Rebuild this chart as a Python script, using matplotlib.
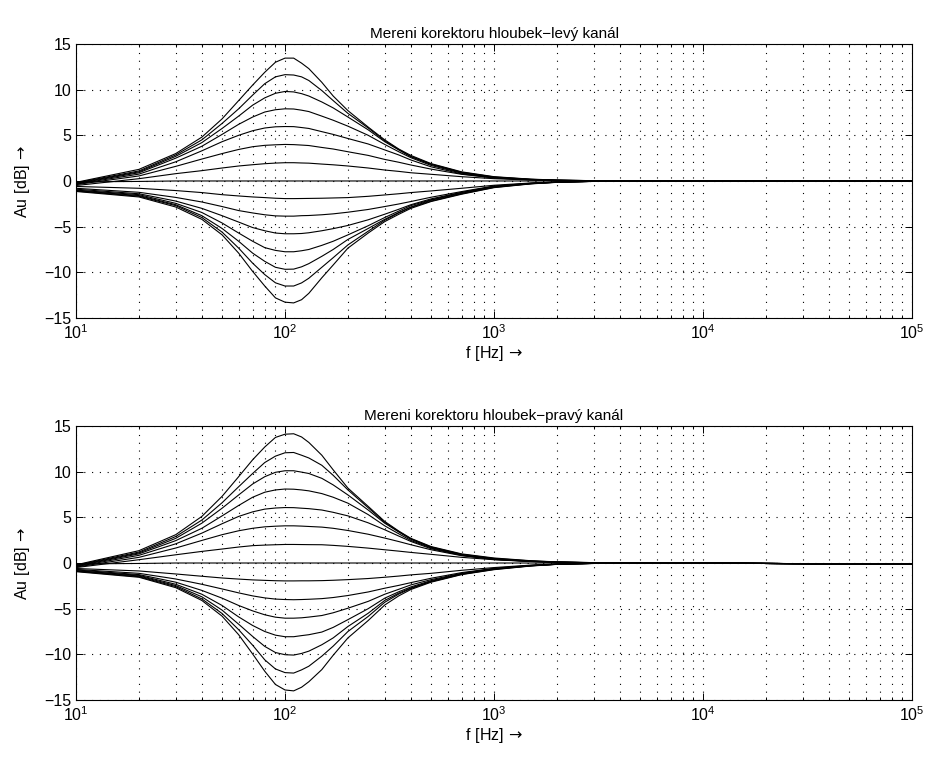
import math
import matplotlib
matplotlib.use('Agg')
import matplotlib.pyplot as plt
from matplotlib.ticker import LogLocator, FuncFormatter, NullFormatter

plt.rcParams['font.family'] = ['Liberation Sans', 'DejaVu Sans']
plt.rcParams['mathtext.fontset'] = 'dejavusans'

# measurement frequencies [Hz]
freq = [10, 20, 30, 40, 50, 60, 70, 80, 90, 100,
        110, 120, 130, 150, 170, 200, 250, 300, 350, 400,
        500, 700, 1000, 1500, 2000, 3000, 5000, 10000, 20000, 50000, 100000]

# ---- left channel (top) ----
left_p7 = [-0.15, 1.27, 3.0, 4.8, 6.8, 8.8, 10.5, 11.9, 13.0, 13.45,
           13.45, 12.9, 12.3, 10.8, 9.3, 7.7, 5.9, 4.5, 3.5, 2.8,
           1.9, 1.0, 0.47, 0.2, 0.1, 0.03, 0, 0, 0, 0, 0]
left_p6 = [-0.2, 1.1, 2.85, 4.5, 6.3, 7.9, 9.4, 10.65, 11.4, 11.64,
           11.6, 11.4, 11.0, 9.9, 8.8, 7.4, 5.8, 4.4, 3.45, 2.7,
           1.85, 0.95, 0.44, 0.18, 0.09, 0.03, 0, 0, 0, 0, 0]
left_p5 = [-0.25, 1.0, 2.7, 4.2, 5.75, 7.1, 8.3, 9.1, 9.6, 9.8,
           9.75, 9.56, 9.3, 8.65, 8.0, 7.0, 5.6, 4.3, 3.4, 2.65,
           1.8, 0.9, 0.4, 0.17, 0.08, 0.03, 0, 0, 0, 0, 0]
left_p4 = [-0.3, 0.9, 2.5, 3.8, 5.1, 6.2, 7.0, 7.55, 7.8, 7.9,
           7.88, 7.75, 7.6, 7.1, 6.65, 6.0, 5.0, 4.0, 3.2, 2.55,
           1.7, 0.85, 0.36, 0.15, 0.07, 0.02, 0, 0, 0, 0, 0]
left_p3 = [-0.35, 0.75, 2.1, 3.3, 4.3, 5.0, 5.5, 5.8, 5.93, 5.96,
           5.95, 5.85, 5.75, 5.4, 5.1, 4.65, 4.05, 3.4, 2.85, 2.3,
           1.55, 0.77, 0.33, 0.14, 0.06, 0.02, 0, 0, 0, 0, 0]
left_p2 = [-0.4, 0.55, 1.6, 2.4, 3.0, 3.45, 3.75, 3.9, 3.96, 4.0,
           3.98, 3.93, 3.88, 3.67, 3.5, 3.2, 2.8, 2.36, 2.05, 1.75,
           1.3, 0.73, 0.33, 0.13, 0.06, 0.02, 0, 0, 0, 0, 0]
left_p1 = [-0.5, 0.25, 0.8, 1.13, 1.42, 1.64, 1.78, 1.89, 1.96, 2.0,
           2.0, 1.97, 1.95, 1.85, 1.77, 1.64, 1.42, 1.2, 1.05, 0.9,
           0.73, 0.47, 0.25, 0.1, 0.05, 0.02, 0, 0, 0, 0, 0]
left_z0 = [-0.1, -0.05, 0, 0, 0, 0, 0, 0, 0, 0,
           0, 0, 0, 0, 0, 0, 0, 0, 0, 0,
           0, 0, 0, 0, 0, 0, 0, 0, 0, 0, 0]
left_n1 = [-0.6, -0.8, -1.05, -1.27, -1.5, -1.64, -1.75, -1.82, -1.89, -1.93,
           -1.93, -1.92, -1.91, -1.89, -1.86, -1.82, -1.68, -1.53, -1.4, -1.27,
           -1.09, -0.8, -0.47, -0.22, -0.1, -0.03, 0, 0, 0, 0, 0]
left_n2 = [-0.8, -1.24, -1.8, -2.3, -2.8, -3.24, -3.5, -3.7, -3.82, -3.85,
           -3.85, -3.8, -3.78, -3.7, -3.6, -3.42, -3.12, -2.8, -2.52, -2.25,
           -1.78, -1.16, -0.55, -0.25, -0.11, -0.03, 0, 0, 0, 0, 0]
left_n3 = [-0.9, -1.4, -2.2, -3.0, -3.8, -4.5, -5.1, -5.45, -5.7, -5.78,
           -5.78, -5.75, -5.67, -5.45, -5.22, -4.87, -4.25, -3.64, -3.1, -2.6,
           -1.96, -1.24, -0.58, -0.26, -0.12, -0.04, 0, 0, 0, 0, 0]
left_n4 = [-1.0, -1.5, -2.45, -3.45, -4.6, -5.7, -6.6, -7.3, -7.6, -7.75,
           -7.75, -7.64, -7.5, -7.05, -6.6, -5.9, -4.9, -4.0, -3.3, -2.7,
           -2.05, -1.27, -0.62, -0.28, -0.13, -0.04, 0, 0, 0, 0, 0]
left_n5 = [-1.05, -1.6, -2.6, -3.8, -5.2, -6.6, -7.9, -8.8, -9.45, -9.67,
           -9.65, -9.4, -9.05, -8.25, -7.5, -6.4, -5.2, -4.2, -3.45, -2.85,
           -2.1, -1.35, -0.65, -0.29, -0.13, -0.04, 0, 0, 0, 0, 0]
left_n6 = [-1.1, -1.67, -2.7, -4.0, -5.6, -7.35, -9.0, -10.25, -11.15, -11.5,
           -11.5, -11.16, -10.65, -9.45, -8.4, -7.0, -5.5, -4.3, -3.5, -2.9,
           -2.2, -1.4, -0.7, -0.3, -0.14, -0.04, 0, 0, 0, 0, 0]
left_n7 = [-1.15, -1.75, -2.85, -4.2, -5.9, -7.9, -9.9, -11.5, -12.8, -13.27,
           -13.35, -13.0, -12.3, -10.6, -9.2, -7.35, -5.7, -4.45, -3.65, -3.0,
           -2.25, -1.45, -0.73, -0.32, -0.15, -0.05, 0, 0, 0, 0, 0]

# ---- right channel (bottom) ----
right_p7 = [-0.2, 1.35, 3.1, 5.1, 7.3, 9.45, 11.3, 12.7, 13.75, 14.1,
            14.15, 13.8, 13.2, 11.8, 10.2, 8.2, 6.2, 4.55, 3.5, 2.7,
            1.8, 1.0, 0.55, 0.25, 0.12, 0.04, 0, 0, -0.05, -0.1, -0.1]
right_p6 = [-0.25, 1.2, 2.9, 4.7, 6.6, 8.35, 9.8, 11.0, 11.7, 12.07,
            12.1, 11.8, 11.5, 10.7, 9.6, 8.0, 6.05, 4.45, 3.45, 2.65,
            1.75, 0.95, 0.5, 0.23, 0.11, 0.04, 0, 0, -0.05, -0.1, -0.1]
right_p5 = [-0.3, 1.1, 2.7, 4.36, 6.0, 7.45, 8.65, 9.45, 9.93, 10.1,
            10.1, 9.95, 9.8, 9.27, 8.55, 7.45, 5.8, 4.36, 3.4, 2.6,
            1.7, 0.9, 0.45, 0.2, 0.1, 0.03, 0, 0, -0.05, -0.1, -0.1]
right_p4 = [-0.35, 1.0, 2.45, 3.8, 5.16, 6.3, 7.2, 7.75, 8.0, 8.1,
            8.08, 8.0, 7.9, 7.6, 7.2, 6.55, 5.3, 4.07, 3.2, 2.47,
            1.64, 0.87, 0.42, 0.19, 0.09, 0.03, 0, 0, -0.05, -0.1, -0.1]
right_p3 = [-0.4, 0.84, 2.1, 3.27, 4.3, 5.1, 5.6, 5.9, 6.02, 6.07,
            6.06, 6.0, 5.95, 5.8, 5.55, 5.16, 4.4, 3.64, 2.95, 2.36,
            1.56, 0.84, 0.4, 0.18, 0.08, 0.03, 0, 0, -0.05, -0.1, -0.1]
right_p2 = [-0.45, 0.62, 1.64, 2.47, 3.1, 3.53, 3.8, 3.96, 4.03, 4.07,
            4.07, 4.04, 4.0, 3.93, 3.8, 3.56, 3.15, 2.73, 2.35, 2.0,
            1.45, 0.8, 0.38, 0.17, 0.08, 0.03, 0, 0, -0.05, -0.1, -0.1]
right_p1 = [-0.5, 0.36, 0.9, 1.27, 1.53, 1.75, 1.9, 1.96, 2.0, 2.03,
            2.03, 2.02, 2.01, 2.0, 1.93, 1.82, 1.63, 1.45, 1.3, 1.16,
            0.95, 0.62, 0.36, 0.16, 0.07, 0.02, 0, 0, -0.05, -0.1, -0.1]
right_z0 = [-0.1, -0.05, 0, 0, 0, 0, 0, 0, 0, 0,
            0, 0, 0, 0, 0, 0, 0, 0, 0, 0,
            0, 0, 0, 0, 0, 0, 0, 0, -0.05, -0.1, -0.1]
right_n1 = [-0.6, -0.87, -1.2, -1.45, -1.64, -1.76, -1.85, -1.9, -1.94, -1.96,
            -1.96, -1.95, -1.95, -1.93, -1.89, -1.82, -1.7, -1.56, -1.43, -1.3,
            -1.13, -0.8, -0.5, -0.23, -0.1, -0.03, 0, 0, -0.05, -0.1, -0.1]
right_n2 = [-0.7, -1.13, -1.75, -2.33, -2.84, -3.27, -3.6, -3.82, -3.95, -4.0,
            -4.02, -4.0, -3.97, -3.9, -3.78, -3.56, -3.17, -2.76, -2.45, -2.15,
            -1.67, -1.05, -0.58, -0.26, -0.12, -0.04, 0, 0, -0.05, -0.1, -0.1]
right_n3 = [-0.76, -1.27, -2.1, -3.0, -3.85, -4.65, -5.24, -5.67, -5.93, -6.04,
            -6.04, -6.0, -5.92, -5.75, -5.45, -4.95, -4.2, -3.42, -2.88, -2.4,
            -1.82, -1.13, -0.62, -0.28, -0.13, -0.04, 0, 0, -0.05, -0.1, -0.1]
right_n4 = [-0.84, -1.35, -2.33, -3.42, -4.65, -5.9, -6.84, -7.5, -7.9, -8.07,
            -8.07, -7.95, -7.85, -7.56, -7.05, -6.2, -5.0, -3.85, -3.15, -2.62,
            -1.93, -1.16, -0.65, -0.29, -0.13, -0.04, 0, 0, -0.05, -0.1, -0.1]
right_n5 = [-0.87, -1.42, -2.47, -3.7, -5.16, -6.7, -8.04, -9.13, -9.8, -10.04,
            -10.08, -9.9, -9.65, -8.95, -8.2, -6.95, -5.5, -4.1, -3.3, -2.73,
            -2.0, -1.2, -0.65, -0.3, -0.14, -0.04, 0, 0, -0.05, -0.1, -0.1]
right_n6 = [-0.9, -1.5, -2.58, -3.93, -5.53, -7.3, -9.0, -10.6, -11.6, -12.0,
            -12.05, -11.7, -11.3, -10.2, -9.1, -7.5, -5.85, -4.3, -3.4, -2.8,
            -2.04, -1.24, -0.7, -0.31, -0.14, -0.05, 0, 0, -0.05, -0.1, -0.1]
right_n7 = [-0.95, -1.56, -2.7, -4.1, -5.82, -7.85, -9.96, -11.85, -13.3, -13.9,
            -14.0, -13.6, -13.0, -11.67, -10.1, -8.2, -6.3, -4.6, -3.6, -2.9,
            -2.1, -1.27, -0.73, -0.33, -0.15, -0.05, 0, 0, -0.05, -0.1, -0.1]

left_curves = [left_p7, left_p6, left_p5, left_p4, left_p3, left_p2, left_p1, left_z0,
               left_n1, left_n2, left_n3, left_n4, left_n5, left_n6, left_n7]
right_curves = [right_p7, right_p6, right_p5, right_p4, right_p3, right_p2, right_p1, right_z0,
                right_n1, right_n2, right_n3, right_n4, right_n5, right_n6, right_n7]

titles = ['Mereni korektoru hloubek\u2212levý kanál', 'Mereni korektoru hloubek\u2212pravý kanál']
ylabel = r'$\mathregular{Au\ [dB]}\,\rightarrow$'
xlabel = r'$\mathregular{f\ [Hz]}\,\rightarrow$'
yticks = [-15, -10, -5, 0, 5, 10, 15]

fig = plt.figure(figsize=(9.28, 7.58), dpi=100)
positions = [[0.0819, 0.5805, 0.9009, 0.3615], [0.0819, 0.0765, 0.9009, 0.3615]]


def fmt(v, pos):
    e = int(round(math.log10(v)))
    return r'$\mathregular{10^{%d}}$' % e


grid_style = dict(color='black', linestyle=(0, (1, 6)), linewidth=0.8)

for pos, curves, title in zip(positions, [left_curves, right_curves], titles):
    ax = fig.add_axes(pos)
    for c in curves:
        ax.plot(freq, c, color='black', linewidth=0.8)
    ax.set_xscale('log')
    ax.set_xlim(10, 1e5)
    ax.set_ylim(-15, 15)
    ax.set_yticks(yticks)
    ax.xaxis.set_major_locator(LogLocator(base=10, numticks=10))
    ax.xaxis.set_minor_locator(LogLocator(base=10, subs=range(2, 10), numticks=20))
    ax.xaxis.set_major_formatter(FuncFormatter(fmt))
    ax.xaxis.set_minor_formatter(NullFormatter())
    ax.grid(True, which='major', axis='both', **grid_style)
    ax.grid(True, which='minor', axis='x', **grid_style)
    ax.tick_params(which='both', direction='in', top=True, right=True, labelsize=11.5, width=0.7)
    ax.tick_params(which='major', length=5)
    ax.tick_params(which='minor', length=2.5)
    for s in ax.spines.values():
        s.set_linewidth(0.8)
    ax.set_title(title, fontsize=11, pad=4)
    ax.set_xlabel(xlabel, fontsize=11.5, labelpad=2)
    ax.set_ylabel(ylabel, fontsize=11.5, labelpad=9)
    ax.set_axisbelow(True)

fig.savefig('out.png', dpi=100)
